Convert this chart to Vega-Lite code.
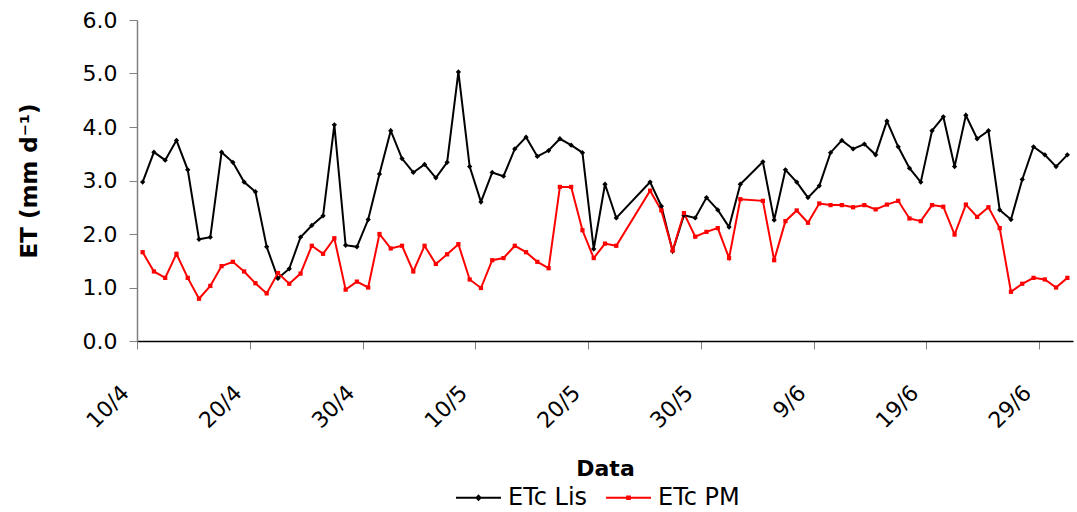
{
  "$schema": "https://vega.github.io/schema/vega-lite/v6.json",
  "width": 936,
  "height": 321,
  "autosize": {"type": "none"},
  "padding": {"left": 137, "top": 20, "right": 4, "bottom": 171},
  "background": "white",
  "config": {
    "view": {"stroke": null},
    "font": "DejaVu Sans",
    "axis": {"labelFont": "DejaVu Sans", "labelFontSize": 22, "labelColor": "#000", "titleFont": "DejaVu Sans", "titleFontWeight": "bold", "titleColor": "#000", "grid": false}
  },
  "data": {"values": [
    {"date": "2000-04-10", "ETc Lis": 2.97, "ETc PM": 1.66},
    {"date": "2000-04-11", "ETc Lis": 3.53, "ETc PM": 1.30},
    {"date": "2000-04-12", "ETc Lis": 3.38, "ETc PM": 1.18},
    {"date": "2000-04-13", "ETc Lis": 3.75, "ETc PM": 1.63},
    {"date": "2000-04-14", "ETc Lis": 3.20, "ETc PM": 1.18},
    {"date": "2000-04-15", "ETc Lis": 1.90, "ETc PM": 0.79},
    {"date": "2000-04-16", "ETc Lis": 1.94, "ETc PM": 1.03},
    {"date": "2000-04-17", "ETc Lis": 3.53, "ETc PM": 1.40},
    {"date": "2000-04-18", "ETc Lis": 3.34, "ETc PM": 1.48},
    {"date": "2000-04-19", "ETc Lis": 2.97, "ETc PM": 1.30},
    {"date": "2000-04-20", "ETc Lis": 2.79, "ETc PM": 1.08},
    {"date": "2000-04-21", "ETc Lis": 1.76, "ETc PM": 0.89},
    {"date": "2000-04-22", "ETc Lis": 1.17, "ETc PM": 1.27},
    {"date": "2000-04-23", "ETc Lis": 1.35, "ETc PM": 1.07},
    {"date": "2000-04-24", "ETc Lis": 1.94, "ETc PM": 1.26},
    {"date": "2000-04-25", "ETc Lis": 2.16, "ETc PM": 1.78},
    {"date": "2000-04-26", "ETc Lis": 2.34, "ETc PM": 1.63},
    {"date": "2000-04-27", "ETc Lis": 4.04, "ETc PM": 1.92},
    {"date": "2000-04-28", "ETc Lis": 1.79, "ETc PM": 0.96},
    {"date": "2000-04-29", "ETc Lis": 1.76, "ETc PM": 1.11},
    {"date": "2000-04-30", "ETc Lis": 2.27, "ETc PM": 1.00},
    {"date": "2000-05-01", "ETc Lis": 3.12, "ETc PM": 2.00},
    {"date": "2000-05-02", "ETc Lis": 3.93, "ETc PM": 1.73},
    {"date": "2000-05-03", "ETc Lis": 3.41, "ETc PM": 1.78},
    {"date": "2000-05-04", "ETc Lis": 3.15, "ETc PM": 1.30},
    {"date": "2000-05-05", "ETc Lis": 3.30, "ETc PM": 1.78},
    {"date": "2000-05-06", "ETc Lis": 3.05, "ETc PM": 1.44},
    {"date": "2000-05-07", "ETc Lis": 3.34, "ETc PM": 1.62},
    {"date": "2000-05-08", "ETc Lis": 5.03, "ETc PM": 1.81},
    {"date": "2000-05-09", "ETc Lis": 3.26, "ETc PM": 1.15},
    {"date": "2000-05-10", "ETc Lis": 2.60, "ETc PM": 0.99},
    {"date": "2000-05-11", "ETc Lis": 3.15, "ETc PM": 1.51},
    {"date": "2000-05-12", "ETc Lis": 3.08, "ETc PM": 1.55},
    {"date": "2000-05-13", "ETc Lis": 3.59, "ETc PM": 1.78},
    {"date": "2000-05-14", "ETc Lis": 3.81, "ETc PM": 1.66},
    {"date": "2000-05-15", "ETc Lis": 3.45, "ETc PM": 1.48},
    {"date": "2000-05-16", "ETc Lis": 3.56, "ETc PM": 1.36},
    {"date": "2000-05-17", "ETc Lis": 3.78, "ETc PM": 2.88},
    {"date": "2000-05-18", "ETc Lis": 3.66, "ETc PM": 2.88},
    {"date": "2000-05-19", "ETc Lis": 3.52, "ETc PM": 2.07},
    {"date": "2000-05-20", "ETc Lis": 1.72, "ETc PM": 1.55},
    {"date": "2000-05-21", "ETc Lis": 2.93, "ETc PM": 1.82},
    {"date": "2000-05-22", "ETc Lis": 2.30, "ETc PM": 1.78},
    {"date": "2000-05-25", "ETc Lis": 2.97, "ETc PM": 2.81},
    {"date": "2000-05-26", "ETc Lis": 2.52, "ETc PM": 2.44},
    {"date": "2000-05-27", "ETc Lis": 1.68, "ETc PM": 1.69},
    {"date": "2000-05-28", "ETc Lis": 2.35, "ETc PM": 2.39},
    {"date": "2000-05-29", "ETc Lis": 2.30, "ETc PM": 1.95},
    {"date": "2000-05-30", "ETc Lis": 2.68, "ETc PM": 2.04},
    {"date": "2000-05-31", "ETc Lis": 2.45, "ETc PM": 2.11},
    {"date": "2000-06-01", "ETc Lis": 2.13, "ETc PM": 1.55},
    {"date": "2000-06-02", "ETc Lis": 2.93, "ETc PM": 2.65},
    {"date": "2000-06-04", "ETc Lis": 3.35, "ETc PM": 2.62},
    {"date": "2000-06-05", "ETc Lis": 2.26, "ETc PM": 1.51},
    {"date": "2000-06-06", "ETc Lis": 3.20, "ETc PM": 2.24},
    {"date": "2000-06-07", "ETc Lis": 2.97, "ETc PM": 2.44},
    {"date": "2000-06-08", "ETc Lis": 2.68, "ETc PM": 2.21},
    {"date": "2000-06-09", "ETc Lis": 2.90, "ETc PM": 2.57},
    {"date": "2000-06-10", "ETc Lis": 3.52, "ETc PM": 2.54},
    {"date": "2000-06-11", "ETc Lis": 3.75, "ETc PM": 2.54},
    {"date": "2000-06-12", "ETc Lis": 3.59, "ETc PM": 2.50},
    {"date": "2000-06-13", "ETc Lis": 3.68, "ETc PM": 2.54},
    {"date": "2000-06-14", "ETc Lis": 3.48, "ETc PM": 2.46},
    {"date": "2000-06-15", "ETc Lis": 4.11, "ETc PM": 2.55},
    {"date": "2000-06-16", "ETc Lis": 3.63, "ETc PM": 2.62},
    {"date": "2000-06-17", "ETc Lis": 3.23, "ETc PM": 2.29},
    {"date": "2000-06-18", "ETc Lis": 2.97, "ETc PM": 2.24},
    {"date": "2000-06-19", "ETc Lis": 3.93, "ETc PM": 2.54},
    {"date": "2000-06-20", "ETc Lis": 4.19, "ETc PM": 2.51},
    {"date": "2000-06-21", "ETc Lis": 3.26, "ETc PM": 1.99},
    {"date": "2000-06-22", "ETc Lis": 4.22, "ETc PM": 2.55},
    {"date": "2000-06-23", "ETc Lis": 3.78, "ETc PM": 2.32},
    {"date": "2000-06-24", "ETc Lis": 3.93, "ETc PM": 2.50},
    {"date": "2000-06-25", "ETc Lis": 2.45, "ETc PM": 2.11},
    {"date": "2000-06-26", "ETc Lis": 2.27, "ETc PM": 0.92},
    {"date": "2000-06-27", "ETc Lis": 3.02, "ETc PM": 1.07},
    {"date": "2000-06-28", "ETc Lis": 3.63, "ETc PM": 1.18},
    {"date": "2000-06-29", "ETc Lis": 3.48, "ETc PM": 1.15},
    {"date": "2000-06-30", "ETc Lis": 3.26, "ETc PM": 1.00},
    {"date": "2000-07-01", "ETc Lis": 3.48, "ETc PM": 1.18}
  ]},
  "transform": [{"fold": ["ETc Lis", "ETc PM"], "as": ["series", "et"]}],
  "encoding": {
    "x": {
      "field": "date", "type": "temporal", "timeUnit": "utcyearmonthdate", "bandPosition": 0.5,
      "title": "Data",
      "scale": {"type": "utc", "domain": [{"year": 2000, "month": 4, "date": 10, "utc": true}, {"year": 2000, "month": 7, "date": 2, "utc": true}]},
      "axis": {
        "values": [
          {"year": 2000, "month": 4, "date": 10, "utc": true},
          {"year": 2000, "month": 4, "date": 20, "utc": true},
          {"year": 2000, "month": 4, "date": 30, "utc": true},
          {"year": 2000, "month": 5, "date": 10, "utc": true},
          {"year": 2000, "month": 5, "date": 20, "utc": true},
          {"year": 2000, "month": 5, "date": 30, "utc": true},
          {"year": 2000, "month": 6, "date": 9, "utc": true},
          {"year": 2000, "month": 6, "date": 19, "utc": true},
          {"year": 2000, "month": 6, "date": 29, "utc": true}
        ],
        "labelExpr": "utcFormat(datum.value, '%-d/%-m')",
        "labelAngle": -45, "labelAlign": "right", "labelBaseline": "middle", "labelPadding": 40, "labelOffset": -12,
        "labelFontSize": 22,
        "tickSize": 8, "tickColor": "#808080", "domainColor": "#000", "domainWidth": 1.5,
        "titleFontSize": 22, "titlePadding": 27
      }
    },
    "y": {
      "field": "et", "type": "quantitative", "title": "ET (mm d⁻¹)",
      "scale": {"domain": [0, 6], "nice": false, "zero": true},
      "axis": {"values": [0, 1, 2, 3, 4, 5, 6], "format": ".1f", "labelFontSize": 22, "tickSize": 8, "tickColor": "#808080", "domainColor": "#808080", "domainWidth": 1.5, "labelPadding": 12, "titleFontSize": 23, "titlePadding": 41}
    }
  },
  "layer": [
    {
      "mark": {"type": "line", "strokeWidth": 2},
      "encoding": {
        "color": {
          "field": "series", "type": "nominal",
          "scale": {"domain": ["ETc Lis", "ETc PM"], "range": ["#000000", "#ff0000"]},
          "legend": {
            "title": null, "orient": "none", "direction": "horizontal", "legendX": 318, "legendY": 454,
            "symbolType": "stroke", "symbolSize": 2025, "symbolStrokeWidth": 2,
            "labelFont": "DejaVu Sans", "labelFontSize": 24, "labelColor": "#000", "labelOffset": 6, "columnPadding": 14,
            "encode": {"symbols": {"update": {"shape": {"signal": "datum.value === 'ETc Lis' ? 'M-1,0H1M0,-0.09L0.09,0L0,0.09L-0.09,0Z' : 'M-1,0H1M-0.06,-0.06H0.06V0.06H-0.06Z'"}}}}
          }
        }
      }
    },
    {
      "transform": [{"filter": "datum.series === 'ETc Lis'"}],
      "mark": {"type": "point", "shape": "diamond", "filled": true, "opacity": 1, "color": "#000000", "size": 28},
      "encoding": {}
    },
    {
      "transform": [{"filter": "datum.series === 'ETc PM'"}],
      "mark": {"type": "point", "shape": "square", "filled": true, "opacity": 1, "color": "#ff0000", "size": 18},
      "encoding": {}
    }
  ]
}
